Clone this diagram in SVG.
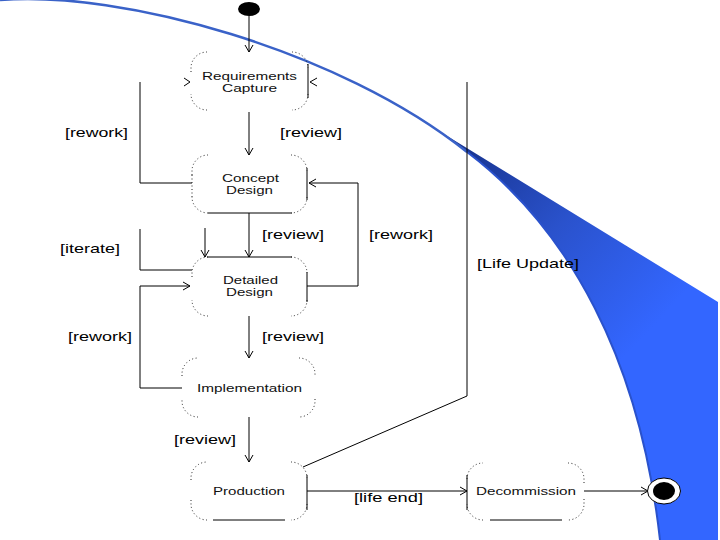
<svg xmlns="http://www.w3.org/2000/svg" width="720" height="540" viewBox="0 0 720 540">
<defs>
<linearGradient id="wedge" gradientUnits="userSpaceOnUse" x1="450" y1="140" x2="650" y2="330">
<stop offset="0" stop-color="#16318a"/>
<stop offset="0.5" stop-color="#2a52cc"/>
<stop offset="1" stop-color="#3366ff"/>
</linearGradient>
<marker id="arr" markerUnits="userSpaceOnUse" markerWidth="8" markerHeight="10" viewBox="0 0 8 10" refX="7.5" refY="5" orient="auto">
<path d="M0.5,1 L7.5,5 L0.5,9" fill="none" stroke="#000" stroke-width="1"/>
</marker>
</defs>
<style>
.lbl{font-family:"Liberation Sans",Arial,sans-serif;font-size:13px;fill:#000}
.nt{font-family:"Liberation Sans",Arial,sans-serif;font-size:11px;fill:#111}
.dot{fill:none;stroke:#222;stroke-width:1;stroke-dasharray:1 2.5}
.sol{fill:none;stroke:#000;stroke-width:1}
.con{fill:none;stroke:#000;stroke-width:1}
</style>
<rect width="720" height="540" fill="#fff"/>
<g id="decoration">
<path d="M660,540 C640,360 570,230 467,152 C457,144 448,137 439,131 L718,302 L718,540 Z" fill="url(#wedge)"/>
<path d="M0,0 C120,-10 340,50 467,152" fill="none" stroke="#3a62c8" stroke-width="2.5"/>
<path d="M467,152 C570,230 640,360 660,540" fill="none" stroke="#2a52cc" stroke-width="2"/>
</g>
<g id="connectors">
<path class="con" d="M249,16 V52" marker-end="url(#arr)"/>
<path class="con" d="M249,112 V155" marker-end="url(#arr)"/>
<path class="con" d="M192,183 H140 V82"/>
<path class="con" d="M184,78 L190,82 L184,86"/>
<path class="con" d="M249,213 V257" marker-end="url(#arr)"/>
<path class="con" d="M205,228 V257" marker-end="url(#arr)"/>
<path class="con" d="M140,229 V270 H192"/>
<path class="con" d="M307,286 H358 V183 H309" marker-end="url(#arr)"/>
<path class="con" d="M249,316 V358" marker-end="url(#arr)"/>
<path class="con" d="M182,388 H140 V286 H190" marker-end="url(#arr)"/>
<path class="con" d="M249,417 V462" marker-end="url(#arr)"/>
<path class="con" d="M303,467 L467,396 V82"/>
<path class="con" d="M317,78 L310,82 L317,86"/>
<path class="con" d="M307,491 H467" marker-end="url(#arr)"/>
<path class="con" d="M584,491 H648" marker-end="url(#arr)"/>
</g>
<g id="start">
<ellipse cx="249" cy="9" rx="11" ry="7" fill="#000"/>
</g>
<g id="requirements">
<path class="dot" d="M191,72 V68 A16,16 0 0 1 207,52 M292,52 A16,16 0 0 1 308,68 M308,94 A16,16 0 0 1 292,110 M207,110 A16,16 0 0 1 191,94"/>
<path class="sol" d="M308,64 V98"/>
<text class="nt" x="202" y="80" textLength="95" lengthAdjust="spacingAndGlyphs">Requirements</text>
<text class="nt" x="222" y="92" textLength="55" lengthAdjust="spacingAndGlyphs">Capture</text>
</g>
<g id="concept">
<path class="dot" d="M192,175 V171 A16,16 0 0 1 208,155 M291,155 A16,16 0 0 1 307,171 M307,197 A16,16 0 0 1 291,213 M208,213 A16,16 0 0 1 192,197 M192,175 V197"/>
<path class="sol" d="M307,168 V200 M208,213 H292"/>
<text class="nt" x="222" y="182" textLength="57" lengthAdjust="spacingAndGlyphs">Concept</text>
<text class="nt" x="226" y="194" textLength="47" lengthAdjust="spacingAndGlyphs">Design</text>
</g>
<g id="detailed">
<path class="dot" d="M192,277 V273 A16,16 0 0 1 208,257 M291,257 A16,16 0 0 1 307,273 M307,300 A16,16 0 0 1 291,316 M208,316 A16,16 0 0 1 192,300"/>
<path class="sol" d="M207,257 H292 M307,272 V302"/>
<text class="nt" x="223" y="284" textLength="55" lengthAdjust="spacingAndGlyphs">Detailed</text>
<text class="nt" x="226" y="296" textLength="47" lengthAdjust="spacingAndGlyphs">Design</text>
</g>
<g id="implementation">
<path class="dot" d="M182,376 V374 A16,16 0 0 1 198,358 M299,358 A16,16 0 0 1 315,374 V376 M315,399 V401 A16,16 0 0 1 299,417 M198,417 A16,16 0 0 1 182,401 V399"/>
<text class="nt" x="197" y="392" textLength="105" lengthAdjust="spacingAndGlyphs">Implementation</text>
</g>
<g id="production">
<path class="dot" d="M191,480 V478 A16,16 0 0 1 207,462 M291,462 A16,16 0 0 1 307,478 M307,504 A16,16 0 0 1 291,520 M207,520 A16,16 0 0 1 191,504 V500"/>
<path class="sol" d="M307,475 V510 M213,520 H285"/>
<text class="nt" x="213" y="495" textLength="72" lengthAdjust="spacingAndGlyphs">Production</text>
</g>
<g id="decommission">
<path class="dot" d="M467,479 A16,16 0 0 1 483,463 M568,463 A16,16 0 0 1 584,479 V484 M584,499 V504 A16,16 0 0 1 568,520 M483,520 A16,16 0 0 1 467,504"/>
<path class="sol" d="M467,475 V510 M490,520 H562"/>
<text class="nt" x="476" y="495" textLength="100" lengthAdjust="spacingAndGlyphs">Decommission</text>
</g>
<g id="end">
<ellipse cx="664" cy="491" rx="16.5" ry="13" fill="#fff" stroke="#000" stroke-width="1"/>
<ellipse cx="664" cy="491" rx="11" ry="9" fill="#000"/>
</g>
<g id="labels">
<text class="lbl" x="65" y="137" textLength="63" lengthAdjust="spacingAndGlyphs">[rework]</text>
<text class="lbl" x="280" y="137" textLength="62" lengthAdjust="spacingAndGlyphs">[review]</text>
<text class="lbl" x="60" y="253" textLength="60" lengthAdjust="spacingAndGlyphs">[iterate]</text>
<text class="lbl" x="262" y="239" textLength="62" lengthAdjust="spacingAndGlyphs">[review]</text>
<text class="lbl" x="369" y="239" textLength="64" lengthAdjust="spacingAndGlyphs">[rework]</text>
<text class="lbl" x="477" y="268" textLength="102" lengthAdjust="spacingAndGlyphs">[Life Update]</text>
<text class="lbl" x="68" y="341" textLength="64" lengthAdjust="spacingAndGlyphs">[rework]</text>
<text class="lbl" x="262" y="341" textLength="62" lengthAdjust="spacingAndGlyphs">[review]</text>
<text class="lbl" x="174" y="444" textLength="62" lengthAdjust="spacingAndGlyphs">[review]</text>
<text class="lbl" x="354" y="502" textLength="69" lengthAdjust="spacingAndGlyphs">[life end]</text>
</g>
</svg>
